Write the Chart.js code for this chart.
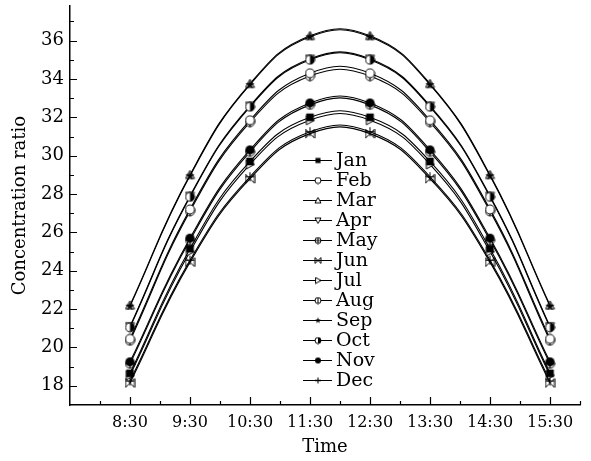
<!DOCTYPE html>
<html>
<head>
<meta charset="utf-8">
<script src="https://cdn.jsdelivr.net/npm/chart.js@4.4.1/dist/chart.umd.min.js"></script>
<style>
  body { margin: 0; background: #fff; }
  canvas { display: block; }
</style>
</head>
<body>
<canvas id="ratio-chart" width="591" height="461"></canvas>
<script>
// hours of the day (decimal) and how they are printed on the axis
const times = [8.5, 9.5, 10.5, 11.5, 12.5, 13.5, 14.5, 15.5];
const timeLabels = ['8:30', '9:30', '10:30', '11:30', '12:30', '13:30', '14:30', '15:30'];
const months = ['Jan', 'Feb', 'Mar', 'Apr', 'May', 'Jun', 'Jul', 'Aug', 'Sep', 'Oct', 'Nov', 'Dec'];

// concentration ratio per month
const jan = [18.65, 25.15, 29.70, 32.00, 32.00, 29.70, 25.15, 18.65];
const feb = [20.45, 27.20, 31.85, 34.30, 34.30, 31.85, 27.20, 20.45];
const mar = [22.20, 29.00, 33.75, 36.25, 36.25, 33.75, 29.00, 22.20];
const apr = [21.10, 27.90, 32.60, 35.05, 35.05, 32.60, 27.90, 21.10];
const may = [19.15, 25.60, 30.20, 32.65, 32.65, 30.20, 25.60, 19.15];
const jun = [18.15, 24.45, 28.80, 31.15, 31.15, 28.80, 24.45, 18.15];
const jul = [18.55, 25.00, 29.55, 31.85, 31.85, 29.55, 25.00, 18.55];
const aug = [20.35, 27.10, 31.75, 34.15, 34.15, 31.75, 27.10, 20.35];
const sep = [22.15, 28.95, 33.70, 36.20, 36.20, 33.70, 28.95, 22.15];
const oct = [21.05, 27.85, 32.55, 35.00, 35.00, 32.55, 27.85, 21.05];
const nov = [19.25, 25.70, 30.30, 32.75, 32.75, 30.30, 25.70, 19.25];
const dec = [18.25, 24.55, 28.90, 31.25, 31.25, 28.90, 24.55, 18.25];

const series = [jan, feb, mar, apr, may, jun, jul, aug, sep, oct, nov, dec];
const markerKinds = ['square', 'circle', 'triUp', 'triDown', 'circlePlus', 'bowtie',
                     'triRight', 'circleBar', 'star', 'halfCircle', 'dot', 'plus'];
// solid symbols go on top where months overlap
const solidKinds = ['square', 'star', 'halfCircle', 'dot'];

const SERIF = '"DejaVu Serif", serif';

// little symbol images, one per month
function makeMarker(kind, size) {
  const c = document.createElement('canvas');
  c.width = size; c.height = size;
  const g = c.getContext('2d');
  const m = size / 2, r = size / 2 - 1;
  g.lineWidth = 1;
  g.strokeStyle = '#000';
  g.fillStyle = '#fff';

  const circle = () => { g.beginPath(); g.arc(m, m, r, 0, Math.PI * 2); };
  const poly = (pts) => {
    g.beginPath();
    pts.forEach((p, i) => i ? g.lineTo(p[0], p[1]) : g.moveTo(p[0], p[1]));
    g.closePath();
  };

  switch (kind) {
    case 'square':
      g.fillStyle = '#000';
      g.fillRect(m - r * 0.85, m - r * 0.85, r * 1.7, r * 1.7);
      break;
    case 'circle':
      circle(); g.fill(); g.stroke();
      break;
    case 'triUp':
      poly([[m, m - r], [m + r, m + r * 0.8], [m - r, m + r * 0.8]]); g.fill(); g.stroke();
      break;
    case 'triDown':
      poly([[m, m + r], [m + r, m - r * 0.8], [m - r, m - r * 0.8]]); g.fill(); g.stroke();
      break;
    case 'triRight':
      poly([[m + r, m], [m - r * 0.8, m - r], [m - r * 0.8, m + r]]); g.fill(); g.stroke();
      break;
    case 'circlePlus':
      circle(); g.fill(); g.stroke();
      g.beginPath();
      g.moveTo(m - r, m); g.lineTo(m + r, m);
      g.moveTo(m, m - r); g.lineTo(m, m + r);
      g.stroke();
      break;
    case 'circleBar':
      circle(); g.fill(); g.stroke();
      g.beginPath(); g.moveTo(m, m - r); g.lineTo(m, m + r); g.stroke();
      break;
    case 'bowtie':
      g.beginPath();
      g.moveTo(m - r, m - r); g.lineTo(m + r, m + r);
      g.moveTo(m + r, m - r); g.lineTo(m - r, m + r);
      g.moveTo(m - r, m - r); g.lineTo(m - r, m + r);
      g.moveTo(m + r, m - r); g.lineTo(m + r, m + r);
      g.stroke();
      break;
    case 'star': {
      const pts = [];
      for (let i = 0; i < 10; i++) {
        const a = -Math.PI / 2 + i * Math.PI / 5;
        const rr = i % 2 ? r * 0.45 : r * 1.05;
        pts.push([m + rr * Math.cos(a), m + rr * Math.sin(a)]);
      }
      g.fillStyle = '#000';
      poly(pts); g.fill();
      break;
    }
    case 'halfCircle':
      circle(); g.fill(); g.stroke();
      g.fillStyle = '#000';
      g.beginPath(); g.arc(m, m, r, -Math.PI / 2, Math.PI / 2); g.closePath(); g.fill();
      break;
    case 'dot':
      g.fillStyle = '#000';
      circle(); g.fill();
      break;
    case 'plus':
      g.beginPath();
      g.moveTo(m - r, m); g.lineTo(m + r, m);
      g.moveTo(m, m - r); g.lineTo(m, m + r);
      g.stroke();
      break;
  }
  return c;
}

const plotMarkers = markerKinds.map(k => makeMarker(k, 11));
const keyMarkers = markerKinds.map(k => makeMarker(k, 8));

// ticks drawn on the inside of both axes, long ones at the labelled values
const inwardTicks = {
  id: 'inwardTicks',
  afterDatasetsDraw(chart) {
    const { ctx, scales: { x, y } } = chart;
    ctx.save();
    ctx.strokeStyle = '#000';
    ctx.lineWidth = 1.2;
    ctx.beginPath();
    for (let v = 8; v <= 16; v += 0.5) {
      const px = Math.round(x.getPixelForValue(v)) + 0.5;
      const len = (v % 1) ? 8 : 4;
      ctx.moveTo(px, y.bottom);
      ctx.lineTo(px, y.bottom - len);
    }
    for (let v = 18; v <= 37; v++) {
      const py = Math.round(y.getPixelForValue(v)) + 0.5;
      const len = (v % 2) ? 4 : 7;
      ctx.moveTo(x.left, py);
      ctx.lineTo(x.left + len, py);
    }
    ctx.stroke();
    ctx.restore();
  }
};

// vertical key in the middle of the plot
const monthKey = {
  id: 'monthKey',
  afterDraw(chart) {
    const ctx = chart.ctx;
    ctx.save();
    ctx.font = '19px ' + SERIF;
    ctx.textBaseline = 'middle';
    ctx.fillStyle = '#000';
    ctx.strokeStyle = '#000';
    ctx.lineWidth = 1;
    chart.data.datasets.forEach((ds, i) => {
      const yy = 160 + i * 20;
      ctx.beginPath();
      ctx.moveTo(303, yy + 0.5);
      ctx.lineTo(332, yy + 0.5);
      ctx.stroke();
      const img = keyMarkers[i];
      ctx.drawImage(img, 318 - img.width / 2, yy + 0.5 - img.height / 2);
      ctx.fillText(ds.label, 336, yy + 1);
    });
    ctx.restore();
  }
};

const datasets = series.map((vals, i) => ({
  label: months[i],
  data: times.map((t, j) => ({ x: t, y: vals[j] })),
  order: solidKinds.includes(markerKinds[i]) ? 0 : 1,
  borderColor: '#000',
  borderWidth: 1.1,
  backgroundColor: '#000',
  pointStyle: plotMarkers[i],
  pointRadius: 5,
  tension: 0.45,
  fill: false
}));

new Chart(document.getElementById('ratio-chart'), {
  type: 'line',
  data: { datasets: datasets },
  options: {
    responsive: false,
    animation: false,
    layout: { padding: { top: 5, right: 11, left: 0, bottom: 0 } },
    plugins: {
      legend: { display: false },
      tooltip: { enabled: false }
    },
    scales: {
      x: {
        type: 'linear',
        min: 7.5,
        max: 16,
        grid: { display: false, drawTicks: false },
        border: { display: true, color: '#000', width: 1.5 },
        ticks: {
          stepSize: 0.5,
          autoSkip: false,
          maxRotation: 0,
          padding: 8,
          color: '#000',
          font: { family: SERIF, size: 16 },
          callback: (v) => {
            const idx = times.findIndex(t => Math.abs(t - v) < 1e-6);
            return idx >= 0 ? timeLabels[idx] : '';
          }
        },
        title: {
          display: true,
          text: 'Time',
          color: '#000',
          font: { family: SERIF, size: 18 },
          padding: { top: 0, bottom: 3 }
        },
        afterFit: (s) => { s.height = 56; s.paddingLeft = 0; s.paddingRight = 0; }
      },
      y: {
        min: 17,
        max: 37.8,
        grid: { display: false, drawTicks: false },
        border: { display: true, color: '#000', width: 1.5 },
        ticks: {
          stepSize: 1,
          autoSkip: false,
          padding: 6,
          color: '#000',
          font: { family: SERIF, size: 18 },
          callback: (v) => (Number.isInteger(v) && v % 2 === 0) ? v : ''
        },
        title: {
          display: true,
          text: 'Concentration ratio',
          color: '#000',
          font: { family: SERIF, size: 18 },
          padding: { top: 10, bottom: 0 }
        },
        afterFit: (s) => { s.width = 70; s.paddingTop = 0; s.paddingBottom = 0; }
      }
    }
  },
  plugins: [inwardTicks, monthKey]
});
</script>
</body>
</html>
